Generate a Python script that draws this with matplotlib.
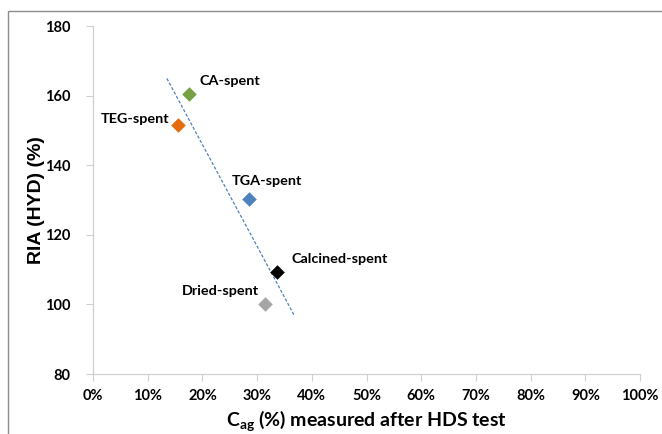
import numpy as np
import matplotlib
matplotlib.use("Agg")
import matplotlib.pyplot as plt
import matplotlib.patches as patches
from matplotlib.ticker import FuncFormatter

# C_ag after HDS test (%) and RIA(HYD) (%) for each spent catalyst
samples = ["CA-spent", "TEG-spent", "TGA-spent", "Calcined-spent", "Dried-spent"]
cag = [17.5, 15.5, 28.5, 33.7, 31.5]
ria = [160.4, 151.6, 130.2, 109.4, 100.0]
colors = ["#77A043", "#E46C0A", "#4F81BD", "#000000", "#A6A6A6"]

# label placement (data coords) and alignment
label_pos = [(19.4, 164.3, "left"), (13.9, 153.3, "right"), (25.3, 135.6, "left"),
             (36.3, 113.1, "left"), (16.2, 103.9, "left")]

plt.rcParams['font.family'] = ['Lato', 'DejaVu Sans']

fig = plt.figure(figsize=(6.62, 4.34), dpi=100)
ax = fig.add_axes([0.1405, 0.138, 0.8265, 0.802])

# chart area border
fig.patches.append(patches.Rectangle((8/662, -0.1), 1.2, 1 - 11/434 + 0.1,
                                     transform=fig.transFigure, fill=False,
                                     edgecolor="#8c8c8c", linewidth=1.0))

for x, y, c in zip(cag, ria, colors):
    ax.scatter(x, y, marker="D", s=55, color=c, zorder=3, linewidths=0)

# linear trendline through the five points
k, b = np.polyfit(cag, ria, 1)
xs = np.array([13.5, 36.8])
ax.plot(xs, k * xs + b, linestyle=(0, (2.5, 1.5)), color="#4F81BD", linewidth=0.9, zorder=2)

for name, (tx, ty, ha) in zip(samples, label_pos):
    ax.text(tx, ty, name, ha=ha, va="center", fontsize=10.4, fontweight="bold")

ax.set_xlim(0, 100)
ax.set_ylim(80, 180)
ax.set_xticks(np.arange(0, 101, 10))
ax.set_yticks(np.arange(80, 181, 20))
ax.xaxis.set_major_formatter(FuncFormatter(lambda v, p: f"{v:.0f}%"))

for side in ["top", "right"]:
    ax.spines[side].set_visible(False)
for side in ["left", "bottom"]:
    ax.spines[side].set_color("#d0d0d0")
    ax.spines[side].set_linewidth(0.9)
ax.tick_params(axis="both", direction="out", length=5, color="#d0d0d0",
               labelsize=10.5)
for lbl in ax.get_xticklabels() + ax.get_yticklabels():
    lbl.set_fontweight("bold")
ax.tick_params(axis="y", pad=11)
ax.tick_params(axis="x", pad=6)

ax.set_ylabel("RIA (HYD) (%)", fontsize=14, fontweight="bold",
              family=["Liberation Sans", "DejaVu Sans"])
ax.yaxis.set_label_coords(-0.088, 0.5)
ax.set_xlabel(r"C$_{\mathregular{ag}}$ (%) measured after HDS test", fontsize=14,
              fontweight="bold", labelpad=4)

fig.savefig("out.png", dpi=100)
